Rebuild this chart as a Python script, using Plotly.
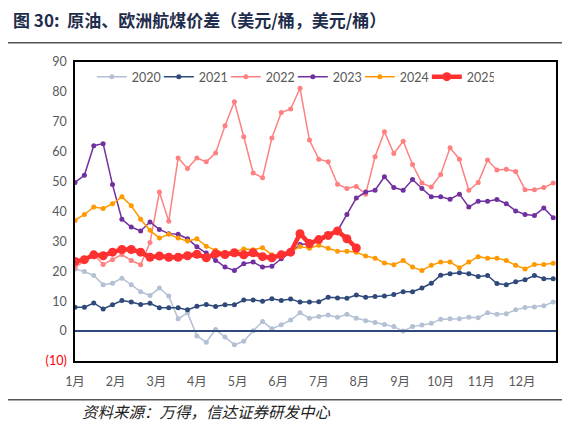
import plotly.graph_objects as go

# weekly spreads, week 1..52
weeks = list(range(52))
y2020 = [20.8, 19.9, 18.6, 15.5, 16.0, 17.7, 15.5, 13.2, 11.9, 14.4, 11.7, 4.1, 6.1, -1.6,
         -3.7, 0.5, -2.0, -4.6, -3.4, 0.1, 3.2, 0.8, 2.1, 3.7, 6.1, 4.3, 4.9, 5.4, 4.6, 5.6,
         4.3, 3.5, 2.9, 2.2, 1.5, 0.0, 1.5, 2.0, 2.6, 4.0, 4.1, 4.1, 4.6, 4.5, 6.1, 5.6, 5.8,
         7.1, 7.9, 8.1, 8.5, 9.7]
y2021 = [8.0, 8.0, 9.4, 7.4, 8.8, 10.2, 9.7, 8.9, 9.3, 7.8, 7.8, 7.8, 7.1, 8.3,
         8.9, 8.2, 8.8, 8.8, 10.4, 10.4, 10.0, 10.8, 10.2, 10.7, 9.7, 9.7, 9.8, 11.3, 11.1, 11.0,
         12.1, 11.3, 11.6, 11.7, 12.2, 13.2, 13.2, 14.4, 16.0, 18.7, 19.2, 19.5, 19.2, 18.3, 18.6, 15.9,
         15.5, 16.5, 17.2, 18.6, 17.5, 17.5]
y2022 = [21.3, 23.6, 25.6, 22.3, 23.9, 25.6, 23.6, 22.2, 29.6, 46.5, 36.7, 57.9, 54.4, 57.9,
         56.6, 59.6, 68.7, 76.7, 65.0, 52.9, 51.3, 64.6, 73.1, 74.3, 81.2, 63.9, 57.5, 56.6, 49.1, 47.7,
         48.4, 45.8, 58.3, 66.7, 59.4, 63.5, 55.7, 49.5, 48.2, 52.4, 61.3, 57.5, 47.1, 49.7, 57.2, 53.9,
         54.1, 53.4, 47.3, 47.3, 48.0, 49.5]
y2023 = [49.7, 52.1, 62.0, 62.7, 49.0, 37.4, 34.8, 33.5, 36.5, 34.0, 32.6, 32.4, 30.9, 28.2,
         26.1, 23.6, 21.4, 20.3, 22.5, 23.1, 21.4, 21.7, 24.2, 26.2, 29.0, 29.2, 30.0, 31.5, 33.5, 39.0,
         44.5, 46.5, 47.1, 51.6, 48.0, 47.1, 50.7, 47.7, 44.9, 44.9, 44.1, 45.8, 41.5, 43.4, 43.4, 44.0,
         42.6, 40.2, 39.0, 38.7, 41.2, 37.9]
y2024 = [37.0, 39.0, 41.5, 41.0, 42.6, 44.9, 41.9, 37.4, 33.7, 31.1, 32.4, 31.1, 30.1, 30.9,
         28.4, 27.0, 26.2, 26.4, 27.5, 27.2, 27.9, 25.5, 25.1, 26.4, 28.3, 27.7, 28.7, 27.7, 26.7, 26.7,
         26.4, 25.1, 24.4, 22.8, 22.2, 23.6, 21.4, 20.3, 22.0, 23.1, 23.1, 21.2, 23.1, 24.9, 24.4, 24.4,
         23.6, 22.0, 20.8, 22.3, 22.3, 22.7]
y2025 = [23.3, 23.9, 25.5, 25.2, 26.4, 27.3, 27.3, 26.4, 24.7, 25.1, 24.7, 24.7, 25.2, 25.7,
         24.5, 25.9, 25.6, 26.2, 25.5, 26.2, 24.9, 24.5, 25.5, 26.4, 32.6, 29.3, 30.6, 32.0, 33.5, 30.9,
         27.8]

month_labels = ["1月", "2月", "3月", "4月", "5月", "6月", "7月", "8月", "9月", "10月", "11月", "12月"]
y_ticks = [-10, 0, 10, 20, 30, 40, 50, 60, 70, 80, 90]

series = [
    ("2020", y2020, "#b4c0d4", 1.5, 5),
    ("2021", y2021, "#2f4a7a", 1.5, 5),
    ("2022", y2022, "#ff8080", 1.5, 5),
    ("2023", y2023, "#7030a0", 1.5, 5),
    ("2024", y2024, "#ff9900", 1.5, 5),
    ("2025", y2025, "#ff3030", 4.5, 9),
]

fig = go.Figure()
for name, vals, color, lw, ms in series:
    fig.add_trace(go.Scatter(
        x=weeks[:len(vals)], y=vals, name=name, mode="lines+markers",
        line=dict(color=color, width=lw),
        marker=dict(color=color, size=ms),
    ))

# 0 line
fig.add_shape(type="line", xref="paper", yref="y", x0=0, x1=1, y0=0, y1=0,
              line=dict(color="#2f4a7a", width=2))
# separators above / below the chart
fig.add_shape(type="line", xref="paper", yref="paper", x0=-0.16, x1=1.03, y0=1.064, y1=1.064,
              line=dict(color="#555555", width=1.5))
fig.add_shape(type="line", xref="paper", yref="paper", x0=-0.16, x1=1.03, y0=-0.13, y1=-0.13,
              line=dict(color="#555555", width=1.5))

fig.add_annotation(text="<b>图 30:  原油、欧洲航煤价差（美元/桶，美元/桶）</b>",
                   xref="paper", yref="paper", x=-0.133, y=1.142, xanchor="left", yanchor="middle",
                   showarrow=False, font=dict(size=17, color="#1f2d4d", family="Noto Sans CJK SC"))
fig.add_annotation(text="<i>资料来源：万得，信达证券研发中心</i>",
                   xref="paper", yref="paper", x=0.01, y=-0.167, xanchor="left", yanchor="middle",
                   showarrow=False, font=dict(size=15.5, color="#222222", family="Noto Sans CJK SC"))

tick_text = [f'<span style="color:#ff0000">({-v})</span>' if v < 0 else str(v) for v in y_ticks]

fig.update_layout(
    width=562, height=423,
    margin=dict(l=67, r=14, t=54, b=70),
    plot_bgcolor="white", paper_bgcolor="white",
    font=dict(family="Lato, Noto Sans CJK SC", size=12.5, color="#595959"),
    showlegend=True,
    legend=dict(orientation="h", x=0.035, y=1.0, xanchor="left", yanchor="top",
                bgcolor="rgba(0,0,0,0)", font=dict(size=12.5, color="#595959"),
                entrywidth=22, entrywidthmode="pixels", itemwidth=30),
    xaxis=dict(range=[0, 51.3], tickvals=[i * 52 / 12 for i in range(12)], ticktext=month_labels,
               showgrid=False, zeroline=False, showline=True, linecolor="black", linewidth=1.5,
               mirror=True, ticks="outside", ticklen=8, tickcolor="white"),
    yaxis=dict(range=[-10, 90], tickvals=y_ticks, ticktext=tick_text,
               showgrid=False, zeroline=False, showline=True, linecolor="black", linewidth=1.5,
               mirror=True, ticks="outside", ticklen=4, tickcolor="white"),
)

fig.write_html("out.html")
